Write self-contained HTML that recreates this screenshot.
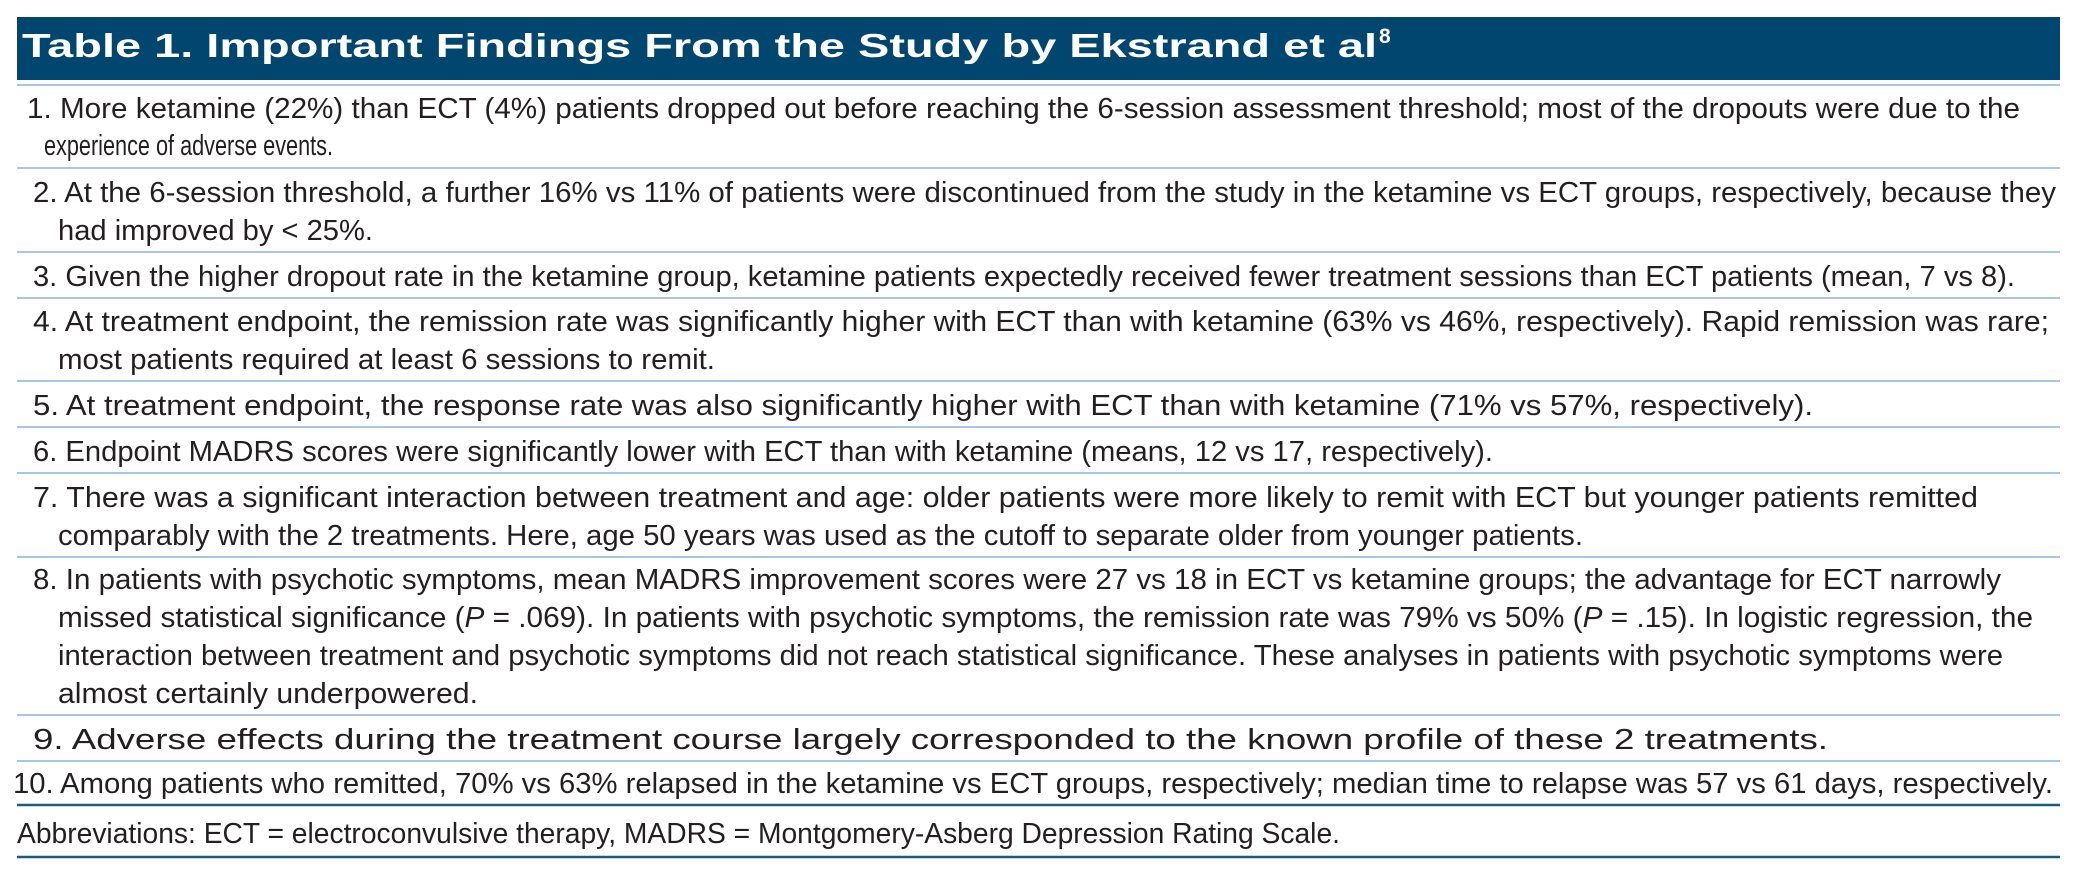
<!DOCTYPE html>
<html><head><meta charset="utf-8"><style>
html,body{margin:0;padding:0;background:#fff;width:2077px;height:884px;overflow:hidden}
svg text{font-family:"Liberation Sans",sans-serif;fill:#231f20;font-size:29px}
</style></head><body>
<svg width="2077" height="884" viewBox="0 0 2077 884" xmlns="http://www.w3.org/2000/svg">
<rect x="17" y="17" width="2043" height="63" fill="#00466f"/>
<text x="22" y="57" style="fill:#fff;font-size:33px;font-weight:bold" textLength="1355" lengthAdjust="spacingAndGlyphs">Table 1. Important Findings From the Study by Ekstrand et al</text>
<text x="1379" y="43" style="fill:#fff;font-size:21px;font-weight:bold">8</text>
<g stroke="#a9c6e6" stroke-width="2">
<line x1="17" x2="2060" y1="85" y2="85"/>
<line x1="17" x2="2060" y1="168" y2="168"/>
<line x1="17" x2="2060" y1="252" y2="252"/>
<line x1="17" x2="2060" y1="298" y2="298"/>
<line x1="17" x2="2060" y1="381" y2="381"/>
<line x1="17" x2="2060" y1="427" y2="427"/>
<line x1="17" x2="2060" y1="473" y2="473"/>
<line x1="17" x2="2060" y1="557" y2="557"/>
<line x1="17" x2="2060" y1="715" y2="715"/>
<line x1="17" x2="2060" y1="761" y2="761"/>
</g>
<line x1="17" x2="2060" y1="805" y2="805" stroke="#1d5d7c" stroke-width="2.5"/>
<line x1="17" x2="2060" y1="857" y2="857" stroke="#1d5d7c" stroke-width="2.5"/>

<g>
<text x="27" y="118" textLength="1993" lengthAdjust="spacingAndGlyphs">1. More ketamine (22%) than ECT (4%) patients dropped out before reaching the 6-session assessment threshold; most of the dropouts were due to the</text>
<text x="44" y="155" textLength="289" lengthAdjust="spacingAndGlyphs">experience of adverse events.</text>
</g>
<g>
<text x="33" y="202" textLength="2023" lengthAdjust="spacingAndGlyphs">2. At the 6-session threshold, a further 16% vs 11% of patients were discontinued from the study in the ketamine vs ECT groups, respectively, because they</text>
<text x="58" y="240" textLength="315" lengthAdjust="spacingAndGlyphs">had improved by &lt; 25%.</text>
</g>
<g>
<text x="33" y="286" textLength="1982" lengthAdjust="spacingAndGlyphs">3. Given the higher dropout rate in the ketamine group, ketamine patients expectedly received fewer treatment sessions than ECT patients (mean, 7 vs 8).</text>
</g>
<g>
<text x="33" y="331" textLength="2016" lengthAdjust="spacingAndGlyphs">4. At treatment endpoint, the remission rate was significantly higher with ECT than with ketamine (63% vs 46%, respectively). Rapid remission was rare;</text>
<text x="58" y="369" textLength="657" lengthAdjust="spacingAndGlyphs">most patients required at least 6 sessions to remit.</text>
</g>
<g>
<text x="33" y="415" textLength="1780" lengthAdjust="spacingAndGlyphs">5. At treatment endpoint, the response rate was also significantly higher with ECT than with ketamine (71% vs 57%, respectively).</text>
</g>
<g>
<text x="33" y="461" textLength="1460" lengthAdjust="spacingAndGlyphs">6. Endpoint MADRS scores were significantly lower with ECT than with ketamine (means, 12 vs 17, respectively).</text>
</g>
<g>
<text x="33" y="507" textLength="1945" lengthAdjust="spacingAndGlyphs">7. There was a significant interaction between treatment and age: older patients were more likely to remit with ECT but younger patients remitted</text>
<text x="58" y="545" textLength="1525" lengthAdjust="spacingAndGlyphs">comparably with the 2 treatments. Here, age 50 years was used as the cutoff to separate older from younger patients.</text>
</g>
<g>
<text x="33" y="589" textLength="1968" lengthAdjust="spacingAndGlyphs">8. In patients with psychotic symptoms, mean MADRS improvement scores were 27 vs 18 in ECT vs ketamine groups; the advantage for ECT narrowly</text>
<text x="58" y="627" textLength="1975" lengthAdjust="spacingAndGlyphs">missed statistical significance (<tspan font-style="italic">P</tspan> = .069). In patients with psychotic symptoms, the remission rate was 79% vs 50% (<tspan font-style="italic">P</tspan> = .15). In logistic regression, the</text>
<text x="58" y="665" textLength="1945" lengthAdjust="spacingAndGlyphs">interaction between treatment and psychotic symptoms did not reach statistical significance. These analyses in patients with psychotic symptoms were</text>
<text x="58" y="703" textLength="420" lengthAdjust="spacingAndGlyphs">almost certainly underpowered.</text>
</g>
<g>
<text x="33" y="749" textLength="1795" lengthAdjust="spacingAndGlyphs">9. Adverse effects during the treatment course largely corresponded to the known profile of these 2 treatments.</text>
</g>
<g>
<text x="13" y="793" textLength="2040" lengthAdjust="spacingAndGlyphs">10. Among patients who remitted, 70% vs 63% relapsed in the ketamine vs ECT groups, respectively; median time to relapse was 57 vs 61 days, respectively.</text>
</g>
<text x="17" y="843" textLength="1323" lengthAdjust="spacingAndGlyphs">Abbreviations: ECT = electroconvulsive therapy, MADRS = Montgomery-Asberg Depression Rating Scale.</text>
</svg>
</body></html>
